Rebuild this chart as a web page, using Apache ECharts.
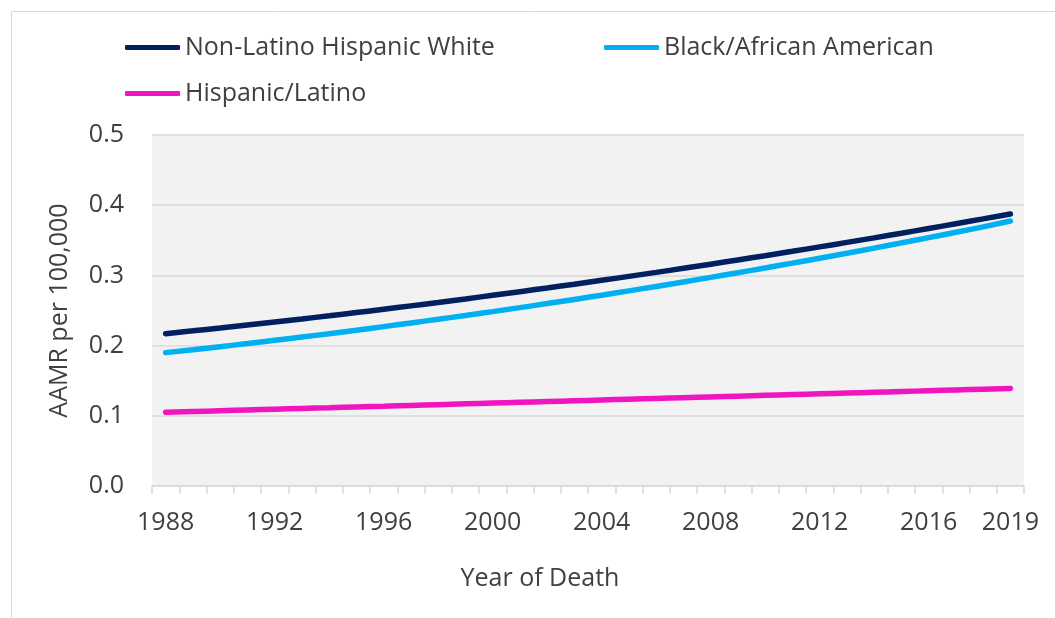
<!DOCTYPE html>
<html>
<head>
<meta charset="utf-8">
<script src="https://cdn.jsdelivr.net/npm/echarts@6/dist/echarts.min.js"></script>
<style>
html,body{margin:0;padding:0;background:#fff;}
#chart{width:1055px;height:618px;}
</style>
</head>
<body>
<div id="chart"></div>
<script>
const years = [1988,1989,1990,1991,1992,1993,1994,1995,1996,1997,1998,1999,2000,2001,2002,2003,2004,2005,2006,2007,2008,2009,2010,2011,2012,2013,2014,2015,2016,2017,2018,2019];
const whiteNonLatino = [0.2170,0.2210,0.2251,0.2293,0.2336,0.2380,0.2425,0.2471,0.2518,0.2566,0.2615,0.2665,0.2716,0.2768,0.2821,0.2875,0.2930,0.2986,0.3043,0.3101,0.3160,0.3220,0.3281,0.3343,0.3406,0.3470,0.3535,0.3601,0.3668,0.3736,0.3805,0.3875];
const blackAfrican = [0.1900,0.1942,0.1985,0.2029,0.2075,0.2122,0.2170,0.2219,0.2270,0.2322,0.2375,0.2429,0.2484,0.2541,0.2599,0.2658,0.2718,0.2780,0.2843,0.2907,0.2972,0.3038,0.3106,0.3175,0.3245,0.3316,0.3389,0.3463,0.3538,0.3614,0.3692,0.3775];
const hispanicLatino = [0.1050,0.1061,0.1072,0.1083,0.1094,0.1105,0.1116,0.1127,0.1137,0.1148,0.1159,0.1170,0.1181,0.1192,0.1203,0.1214,0.1225,0.1236,0.1247,0.1258,0.1269,0.1280,0.1291,0.1302,0.1313,0.1324,0.1335,0.1346,0.1357,0.1368,0.1379,0.1390];
const yTicks = [0, 0.1, 0.2, 0.3, 0.4, 0.5];
const shownYearLabels = [1988,1992,1996,2000,2004,2008,2012,2016,2019];
const seriesNames = ['Non-Latino Hispanic White','Black/African American','Hispanic/Latino'];
const seriesColors = ['#002060','#00b0f0','#f015c0'];

const FONT = 'Open Sans';
const TXT = '#404040';
const FS = 25;
const chart = echarts.init(document.getElementById('chart'));
const seriesData = [whiteNonLatino, blackAfrican, hispanicLatino];

function legendFor(name, left, top){
  return {
    data:[name], left:left, top:top, icon:'roundRect', itemWidth:55, itemHeight:5,
    padding:0, textStyle:{fontFamily:FONT, fontSize:FS, color:TXT}
  };
}

chart.setOption({
  animation:false,
  backgroundColor:'#ffffff',
  graphic:[
    {type:'rect', shape:{x:11.5, y:11.5, width:1200, height:800}, style:{fill:'none', stroke:'#d9d9d9', lineWidth:1}, silent:true},
    {type:'text', x:540, y:579, style:{text:'Year of Death', fontFamily:FONT, fontSize:FS, fill:TXT, align:'center', verticalAlign:'middle'}}
  ],
  legend:[
    legendFor(seriesNames[0], 125, 35),
    legendFor(seriesNames[1], 604, 35),
    legendFor(seriesNames[2], 125, 81)
  ],
  grid:{left:152, right:31, top:135, bottom:132, show:true, backgroundColor:'#f2f2f2', borderWidth:0},
  xAxis:{
    type:'category', data:years, boundaryGap:true,
    axisLine:{show:true, lineStyle:{color:'#d9d9d9', width:1.5}},
    axisTick:{show:true, interval:0, length:8, lineStyle:{color:'#d9d9d9', width:1.5}},
    axisLabel:{
      interval:function(i, v){ return shownYearLabels.indexOf(Number(v)) >= 0; },
      fontFamily:FONT, fontSize:FS, color:TXT, margin:24
    },
    splitLine:{show:false}
  },
  yAxis:{
    type:'value', min:yTicks[0], max:yTicks[yTicks.length-1], interval:0.1,
    name:'AAMR per 100,000', nameLocation:'middle', nameGap:80,
    nameTextStyle:{fontFamily:FONT, fontSize:FS, color:TXT},
    axisLine:{show:false}, axisTick:{show:false},
    axisLabel:{fontFamily:FONT, fontSize:FS, color:TXT, margin:28, formatter:function(v){return v.toFixed(1);}},
    splitLine:{show:true, lineStyle:{color:'#d9d9d9', width:1.5}}
  },
  series: seriesNames.map(function(n, i){
    return {
      name:n, type:'line', data:seriesData[i], smooth:true, showSymbol:false, symbol:'none',
      color:seriesColors[i],
      lineStyle:{width:5.5, color:seriesColors[i], cap:'round'},
      itemStyle:{color:seriesColors[i]}
    };
  })
});
</script>
</body>
</html>
